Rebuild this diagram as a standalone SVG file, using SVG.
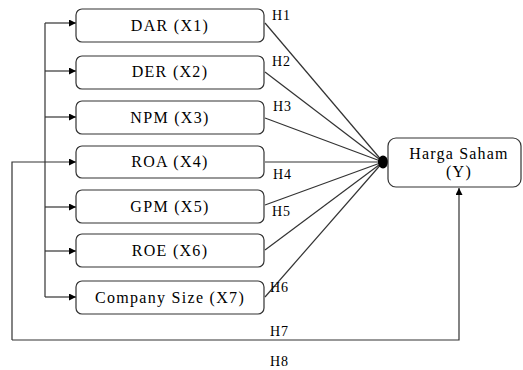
<svg xmlns="http://www.w3.org/2000/svg" width="523" height="370" viewBox="0 0 523 370">
<defs>
<marker id="ah" viewBox="0 0 10 10" refX="10" refY="5" markerWidth="8" markerHeight="7" markerUnits="userSpaceOnUse" orient="auto">
<path d="M0,0 L10,5 L0,10 z" fill="#000"/>
</marker>
</defs>
<style>
.box{fill:#fff;stroke:#333;stroke-width:1.2}
.t{font-family:"Liberation Serif",serif;font-size:16px;letter-spacing:1.3px;fill:#000;text-anchor:middle}
.h{font-family:"Liberation Serif",serif;font-size:14px;letter-spacing:0.8px;fill:#000}
.ln{fill:none;stroke:#333;stroke-width:1.2}
</style>
<rect width="523" height="370" fill="#fff"/>
<g id="connectors">
<path class="ln" d="M45,23 V297"/>
<path class="ln" d="M45,23 H76" marker-end="url(#ah)"/>
<path class="ln" d="M45,71 H76" marker-end="url(#ah)"/>
<path class="ln" d="M45,117 H76" marker-end="url(#ah)"/>
<path class="ln" d="M45,207 H76" marker-end="url(#ah)"/>
<path class="ln" d="M45,251 H76" marker-end="url(#ah)"/>
<path class="ln" d="M45,297 H76" marker-end="url(#ah)"/>
<path class="ln" d="M12,340 V162 H76" marker-end="url(#ah)"/>
<path class="ln" d="M12,340 H459 V188" marker-end="url(#ah)"/>
<path class="ln" d="M265,23 L383,162"/>
<path class="ln" d="M265,72 L383,162"/>
<path class="ln" d="M265,118 L383,162"/>
<path class="ln" d="M265,162 L383,162"/>
<path class="ln" d="M265,205 L383,162"/>
<path class="ln" d="M265,250 L383,162"/>
<path class="ln" d="M265,297 L383,162"/>
<ellipse cx="383" cy="162" rx="5" ry="6.5" fill="#000"/>
</g>
<g id="x1"><rect class="box" x="76" y="9" width="188" height="33" rx="6"/><text class="t" x="170" y="31">DAR (X1)</text></g>
<g id="x2"><rect class="box" x="76" y="56" width="188" height="33" rx="6"/><text class="t" x="170" y="77">DER (X2)</text></g>
<g id="x3"><rect class="box" x="76" y="101" width="188" height="33" rx="6"/><text class="t" x="170" y="123">NPM (X3)</text></g>
<g id="x4"><rect class="box" x="76" y="146" width="188" height="32" rx="6"/><text class="t" x="170" y="167">ROA (X4)</text></g>
<g id="x5"><rect class="box" x="76" y="190" width="188" height="33" rx="6"/><text class="t" x="170" y="212">GPM (X5)</text></g>
<g id="x6"><rect class="box" x="76" y="234" width="188" height="33" rx="6"/><text class="t" x="170" y="256">ROE (X6)</text></g>
<g id="x7"><rect class="box" x="76" y="281" width="188" height="33" rx="6"/><text class="t" x="170" y="303">Company Size (X7)</text></g>
<g id="y"><rect class="box" x="388" y="138" width="133" height="49" rx="8"/><text class="t" x="459" y="159" style="letter-spacing:1.2px">Harga Saham</text><text class="t" x="459" y="177">(Y)</text></g>
<g id="labels">
<text class="h" x="272" y="20">H1</text>
<text class="h" x="272" y="66">H2</text>
<text class="h" x="273" y="111">H3</text>
<text class="h" x="273" y="179">H4</text>
<text class="h" x="272" y="216">H5</text>
<text class="h" x="270" y="292">H6</text>
<text class="h" x="270" y="336">H7</text>
<text class="h" x="270" y="366">H8</text>
</g>
</svg>
